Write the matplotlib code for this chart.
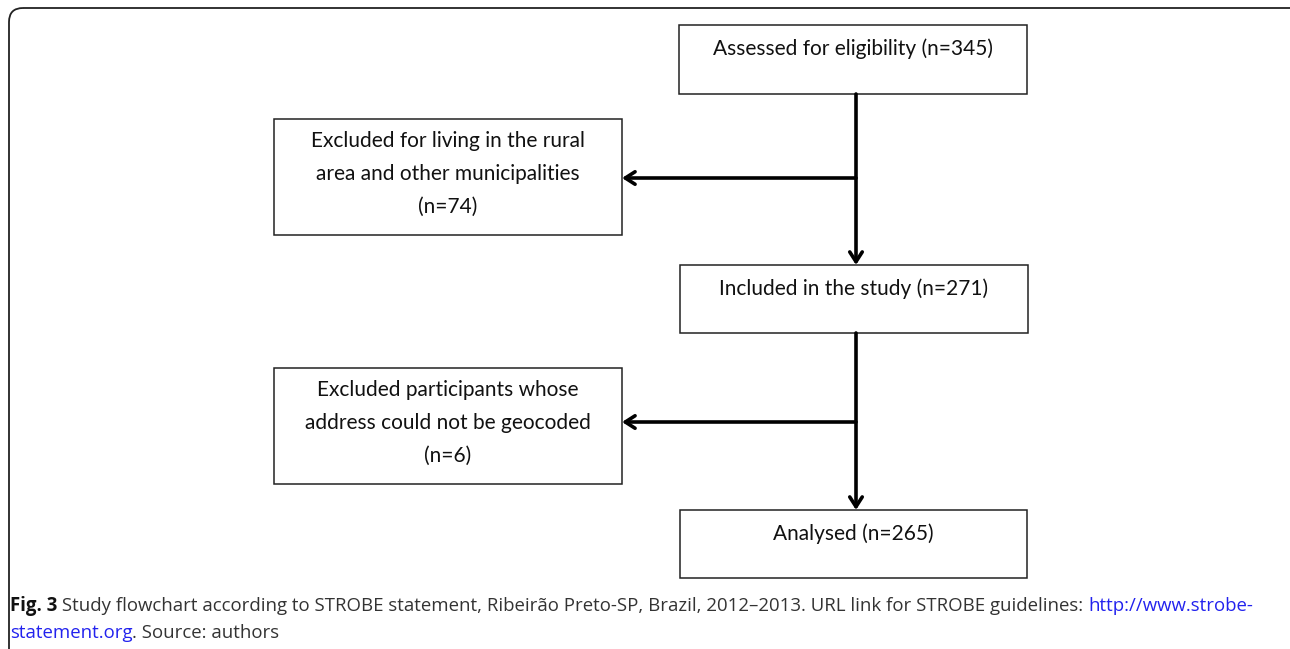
"""
STROBE study flowchart (Fig. 3) recreated with matplotlib
"""

import matplotlib.pyplot as plt
from matplotlib.patches import FancyBboxPatch, Rectangle

# box labels
main_labels = [
    "Assessed for eligibility (n=345)",
    "Included in the study (n=271)",
    "Analysed (n=265)",
]
excluded_labels = [
    "Excluded for living in the rural\narea and other municipalities\n(n=74)",
    "Excluded participants whose\naddress could not be geocoded\n(n=6)",
]
caption_bold = "Fig. 3"
caption_line1 = (" Study flowchart according to STROBE statement, Ribeirão Preto-SP, Brazil, "
                 "2012\u20132013. URL link for STROBE guidelines: ")
caption_url1 = "http://www.strobe-"
caption_url2 = "statement.org"
caption_line2 = ". Source: authors"

W, H = 1290, 649
BOX_FONT = "Lato"
CAP_FONT = "Open Sans"


def main():
    fig = plt.figure(figsize=(W / 100, H / 100), dpi=100)
    ax = fig.add_axes([0, 0, 1, 1])
    ax.set_xlim(0, W)
    ax.set_ylim(H, 0)
    ax.axis("off")

    # outer rounded frame (runs off the right and bottom edges)
    frame = FancyBboxPatch((9, 8), W + 40, H + 40,
                           boxstyle="round,pad=0,rounding_size=14",
                           fc="none", ec="#222222", lw=1.3)
    ax.add_patch(frame)

    # main column boxes: (x0, y0, x1, y1)
    main_boxes = [(679, 25, 1027, 94), (680, 265, 1028, 333), (680, 510, 1027, 578)]
    side_boxes = [(274, 119, 622, 235), (274, 368, 622, 484)]

    for (x0, y0, x1, y1), lab in zip(main_boxes, main_labels):
        ax.add_patch(Rectangle((x0, y0), x1 - x0, y1 - y0, fc="white", ec="#222222", lw=1.1))
        ax.text((x0 + x1) / 2, y0 + 24, lab, ha="center", va="center",
                fontsize=15, family=BOX_FONT, color="#111111")

    for (x0, y0, x1, y1), lab in zip(side_boxes, excluded_labels):
        ax.add_patch(Rectangle((x0, y0), x1 - x0, y1 - y0, fc="white", ec="#222222", lw=1.1))
        ax.text((x0 + x1) / 2, (y0 + y1) / 2 - 3, lab, ha="center", va="center",
                fontsize=15, family=BOX_FONT, color="#111111", linespacing=1.8)

    # connectors
    xc = 856
    arrow = dict(arrowstyle="->,head_length=0.7,head_width=0.45", lw=2.6, color="black",
                 shrinkA=0, shrinkB=0)
    branch_y = [178, 422]
    for i in range(2):
        top = main_boxes[i][3]
        bot = main_boxes[i + 1][1]
        ax.annotate("", xy=(xc, bot), xytext=(xc, top), arrowprops=arrow)
        ax.annotate("", xy=(side_boxes[i][2], branch_y[i]), xytext=(xc, branch_y[i]),
                    arrowprops=arrow)

    # caption with bold prefix and blue link
    fig.canvas.draw()
    r = fig.canvas.get_renderer()
    cap_size = 13.4
    x = 10
    y1, y2 = 606, 633
    pieces = [(caption_bold, "bold", "#111111"), (caption_line1, "normal", "#333333"),
              (caption_url1, "normal", "#2222ee")]
    for txt, wt, col in pieces:
        t = ax.text(x, y1, txt, fontsize=cap_size, family=CAP_FONT, weight=wt,
                    color=col, va="center", ha="left")
        bb = t.get_window_extent(renderer=r)
        x += bb.width
    x = 10
    for txt, col in [(caption_url2, "#2222ee"), (caption_line2, "#333333")]:
        t = ax.text(x, y2, txt, fontsize=cap_size, family=CAP_FONT,
                    color=col, va="center", ha="left")
        bb = t.get_window_extent(renderer=r)
        x += bb.width

    fig.savefig("out.png", dpi=100)


if __name__ == "__main__":
    main()
